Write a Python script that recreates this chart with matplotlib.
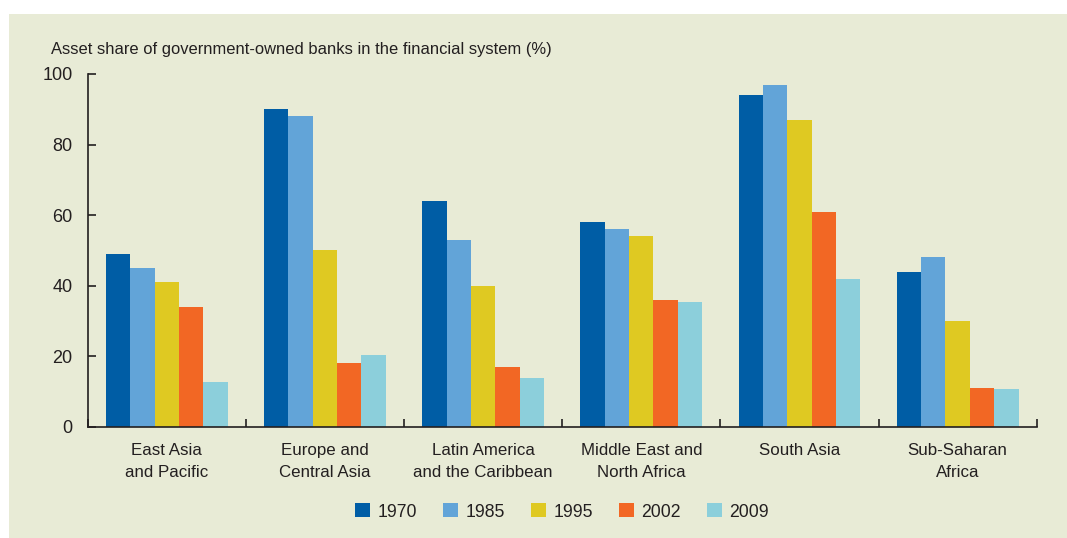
import matplotlib
matplotlib.use("Agg")
import matplotlib.pyplot as plt
from matplotlib.patches import Rectangle, Patch
import numpy as np

plt.rcParams['font.family'] = ['Liberation Sans Narrow', 'Liberation Sans', 'DejaVu Sans']

###### Data ####################################################################
regions = ["East Asia\nand Pacific", "Europe and\nCentral Asia",
           "Latin America\nand the Caribbean", "Middle East and\nNorth Africa",
           "South Asia", "Sub-Saharan\nAfrica"]
years = ["1970", "1985", "1995", "2002", "2009"]
share_1970 = [49, 90, 64, 58, 94, 44]
share_1985 = [45, 88, 53, 56, 97, 48]
share_1995 = [41, 50, 40, 54, 87, 30]
share_2002 = [34, 18, 17, 36, 61, 11]
share_2009 = [12.6, 20.3, 13.7, 35.3, 41.8, 10.6]
series = [share_1970, share_1985, share_1995, share_2002, share_2009]
colors = ["#005da5", "#62a4d8", "#dfc922", "#f26724", "#8ccfdb"]

bg = "#e8ebd6"
ink = "#231f20"
fs = 12.2

###### Figure ##################################################################
fig = plt.figure(figsize=(10.67, 5.38), dpi=100)
fig.patch.set_facecolor("white")
fig.patches.append(Rectangle((9/1067, 0), 1, (538-14)/538, transform=fig.transFigure,
                             facecolor=bg, edgecolor="none", zorder=-10))

ax = fig.add_axes([87.7/1067, (538-426.7)/538, (1036.7-87.7)/1067, (426.7-74)/538])
ax.set_facecolor("none")

x = np.arange(len(regions))
w = 0.154
for i, (vals, c) in enumerate(zip(series, colors)):
    ax.bar(x + (i-2)*w, vals, width=w, color=c, linewidth=0, label=years[i])

ax.set_xlim(-0.5, len(regions)-0.5)
ax.set_ylim(0, 100)
ax.set_yticks([0, 20, 40, 60, 80, 100])
for s in ["top", "right"]:
    ax.spines[s].set_visible(False)
for s in ["left", "bottom"]:
    ax.spines[s].set_color(ink)
    ax.spines[s].set_linewidth(1.2)
ax.tick_params(axis="y", direction="in", length=6, width=1.2, color=ink,
               labelsize=fs+0.8, labelcolor=ink, pad=11)
ax.set_xticks(x)
ax.set_xticklabels(regions, fontsize=fs, color=ink, linespacing=1.55)
ax.tick_params(axis="x", length=0, pad=12)
ax.set_xticks(np.arange(-0.5, len(regions)), minor=True)
ax.tick_params(axis="x", which="minor", direction="in", length=6, width=1.2, color=ink)

fig.text(51/1067, (538-54)/538, "Asset share of government-owned banks in the financial system (%)",
         fontsize=fs - 0.3, color=ink, va="baseline", ha="left")

handles = [Patch(facecolor=c, edgecolor="none") for c in colors]
fig.legend(handles, years, loc="center", bbox_to_anchor=(562/1067, (538-512)/538), ncol=5,
           frameon=False, fontsize=fs + 0.5, handlelength=0.85, handleheight=0.85,
           handletextpad=0.45, columnspacing=1.45, labelcolor=ink)

plt.savefig("out.png", dpi=100)
